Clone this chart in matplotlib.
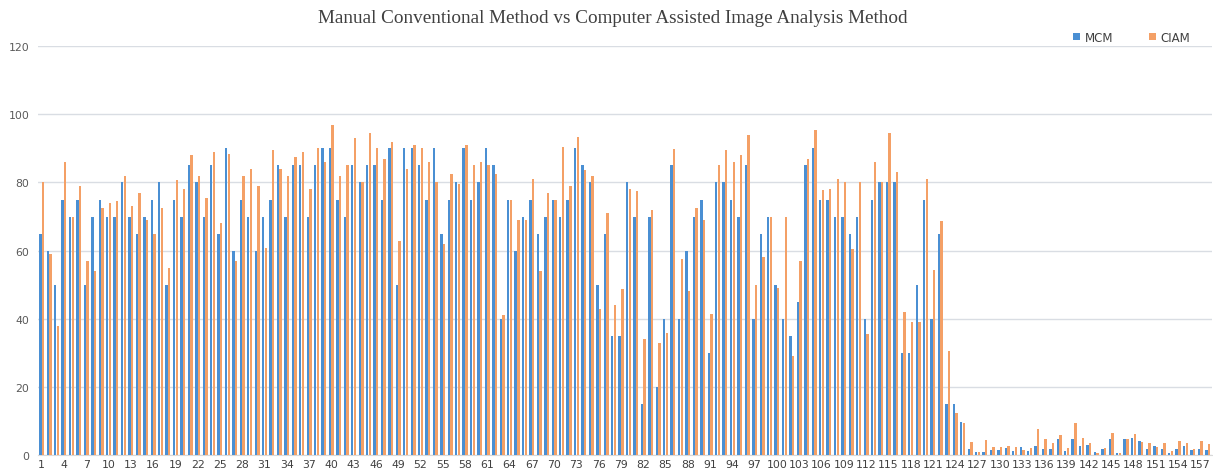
import numpy as np
import matplotlib
matplotlib.use("Agg")
import matplotlib.pyplot as plt
from matplotlib import font_manager

mcm = [65, 60, 50, 75, 70, 75, 50, 70, 75, 70, 70, 80, 70, 65, 70,
       75, 80, 50, 75, 70, 85, 80, 70, 85, 65, 90, 60, 75, 70, 60, 70,
       75, 85, 70, 85, 85, 70, 85, 90, 90, 75, 70, 85, 80, 85, 85, 75, 90,
       50, 90, 90, 85, 75, 90, 65, 75, 80, 90, 75, 80, 90, 85, 40, 75,
       60, 70, 75, 65, 70, 75, 70, 75, 90, 85, 80, 50, 65, 35, 35, 80,
       70, 15, 70, 20, 40, 85, 40, 60, 70, 75, 30, 80, 80, 75, 70, 85,
       40, 65, 70, 50, 40, 35, 45, 85, 90, 75, 75, 70, 70, 65, 70, 40,
       75, 80, 80, 80, 30, 30, 50, 75, 40, 65, 15, 15, 9.6, 1.8, 1, 1,
       1.5, 1.6, 2, 1.1, 2.4, 1.1, 2.7, 1.8, 1.8, 4.7, 1.1, 4.7, 2.7, 3,
       0.8, 1.8, 4.7, 0.7, 4.8, 5, 4.1, 1.7, 2.6, 1.7, 0.7, 1.7, 2.6, 1.5,
       1.7, 1.4]
ciam = [80, 59, 38, 86, 70, 79, 57, 54, 72.5, 74, 74.5, 82, 73, 77, 69,
        65, 72.5, 55, 80.6, 78, 88, 82, 75.5, 89, 68, 88.5, 57, 82, 84, 79, 60.7,
        89.5, 84, 82, 87.5, 89, 78, 90, 86, 97, 82, 85, 93, 80, 94.6, 90, 87, 92,
        62.7, 84, 91, 90, 86, 80, 62, 82.6, 79.7, 91, 85, 86, 85, 82.6, 41, 75,
        69, 69, 81, 54, 77, 75, 90.5, 79, 93.4, 83.6, 82, 43, 71, 44, 48.7, 78,
        77.4, 34, 72, 33, 35.7, 89.7, 57.5, 48, 72.5, 69, 41.5, 85, 89.5, 86, 88, 94,
        50, 58, 70, 49, 70, 29, 57, 87, 95.4, 77.7, 78, 81, 80, 60.4, 80, 35.5,
        86, 80, 94.4, 83, 42, 39, 39, 81, 54.3, 68.6, 30.5, 12.4, 9.3, 3.7, 1, 4.4,
        2.3, 2.4, 2.7, 2.3, 1.6, 2.2, 7.5, 4.7, 3.5, 5.8, 2, 9.5, 5, 3.6,
        0.5, 2.2, 6.5, 0.5, 4.8, 6.3, 3.9, 3.6, 2.3, 3.6, 1.2, 4.1, 3.4, 1.9,
        4.1, 3.1]
categories = list(range(1, len(mcm) + 1))
xtick_labels = [str(c) for c in categories[::3]]
title = "Manual Conventional Method vs Computer Assisted Image Analysis Method"

installed = {f.name for f in font_manager.fontManager.ttflist}
if "Liberation Sans Narrow" in installed:
    tick_family, tick_size = "Liberation Sans Narrow", 9.5
else:
    tick_family, tick_size = "DejaVu Sans", 7.8

fig = plt.figure(figsize=(12.13, 4.77), dpi=100)
ax = fig.add_axes([0.031, 0.044, 0.968, 0.857])

x = np.array(categories, dtype=float)
w = 0.32
ax.bar(x - w / 2 - 0.02, mcm, width=w, color="#4A8FD3", label="MCM", zorder=3)
ax.bar(x + w / 2 + 0.02, ciam, width=w, color="#F4A066", label="CIAM", zorder=3)

ax.set_xlim(0.45, len(categories) + 0.55)
ax.set_ylim(0, 120)
ax.set_yticks(range(0, 121, 20))
ax.set_xticks(categories[::3])
ax.set_xticklabels(xtick_labels)
ax.yaxis.grid(True, color="#D9DDE3", linewidth=1.0, zorder=0)
ax.set_axisbelow(True)
for s in ["top", "right", "left"]:
    ax.spines[s].set_visible(False)
ax.spines["bottom"].set_color("#D9D9D9")
ax.tick_params(axis="both", length=0, labelsize=tick_size, colors="#404040")
ax.tick_params(axis="x", pad=3)
ax.tick_params(axis="y", pad=6)
for lbl in ax.get_xticklabels() + ax.get_yticklabels():
    lbl.set_family(tick_family)
for lbl in ax.get_yticklabels():
    lbl.set_color("#595959")

fig.text(0.505, 0.962, title, ha="center", va="center",
         family="Liberation Serif", fontsize=13.8, color="#404040")

leg = ax.legend(loc="center", bbox_to_anchor=(0.932, 1.022), ncol=2,
                frameon=False, handlelength=0.6, handleheight=0.6,
                columnspacing=3.0, handletextpad=0.4,
                prop={"family": tick_family, "size": 8.5})
for t in leg.get_texts():
    t.set_color("#404040")

fig.savefig("out.png", dpi=100, facecolor="white")
